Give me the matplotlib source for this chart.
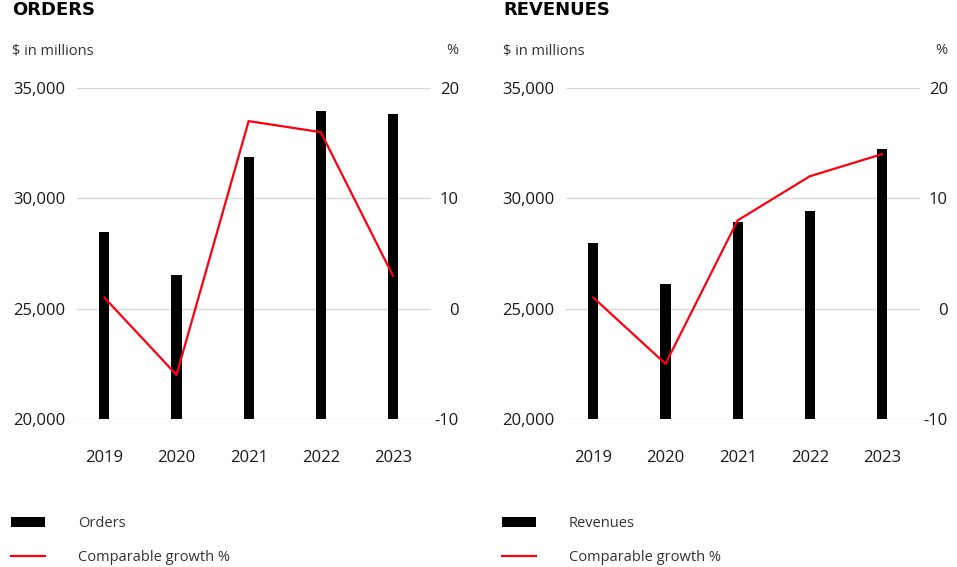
import numpy as np
import matplotlib
matplotlib.use("Agg")
import matplotlib.pyplot as plt
from matplotlib.patches import Patch
from matplotlib.lines import Line2D

# data
years = ["2019", "2020", "2021", "2022", "2023"]
orders = [28490, 26510, 31870, 33960, 33800]
orders_growth = [1, -6, 17, 16, 3]
revenues = [27980, 26130, 28940, 29440, 32240]
revenues_growth = [1, -5, 8, 12, 14]

plt.rcParams['font.family'] = ['Open Sans', 'DejaVu Sans']
plt.rcParams['axes.unicode_minus'] = False
RED = '#ff000f'
TXT = '#1a1a1a'

fig = plt.figure(figsize=(9.57, 5.67), dpi=100)


def panel(x0, bars, growth, title, label, tx):
    ax = fig.add_axes([x0, 0.261, 0.370, 0.5838])
    x = np.arange(len(years))
    ax.bar(x, np.array(bars) - 20000, bottom=20000, width=0.14, color='black', zorder=3)
    ax.set_ylim(20000, 35000)
    ax.set_yticks([20000, 25000, 30000, 35000])
    ax.set_yticklabels(['20,000', '25,000', '30,000', '35,000'])
    ax.set_xlim(-0.38, 4.53)
    ax.set_xticks(x)
    ax.set_xticklabels(years)
    ax.grid(axis='y', color='#d9d9d9', lw=1, zorder=0)
    for s in ax.spines.values():
        s.set_visible(False)
    ax.tick_params(axis='y', length=0, pad=8.5, labelsize=12, labelcolor=TXT)
    ax.tick_params(axis='x', length=0, pad=22, labelsize=12, labelcolor=TXT)

    ax2 = ax.twinx()
    ax2.plot(x, growth, color=RED, lw=1.6, zorder=4)
    ax2.set_ylim(-10, 20)
    ax2.set_yticks([-10, 0, 10, 20])
    for s in ax2.spines.values():
        s.set_visible(False)
    ax2.tick_params(axis='y', length=0, pad=20, labelsize=12, labelcolor=TXT)
    for t in ax2.get_yticklabels():
        t.set_ha('right')

    fig.text(tx, 1 - 10 / 567, title, fontsize=13, fontweight='bold',
             family='DejaVu Sans', va='center', ha='left', color='black')
    fig.text(tx, 1 - 51 / 567, '$ in millions', fontsize=10.5, color='#333333',
             va='center', ha='left')
    fig.text(x0 + 0.370 + 0.029, 1 - 51 / 567, '%', fontsize=10.5, color='#333333',
             va='center', ha='right')

    handles = [Patch(facecolor='black', edgecolor='none', label=label),
               Line2D([0], [0], color=RED, lw=1.6, label='Comparable growth %')]
    fig.legend(handles=handles, loc='upper left', bbox_to_anchor=(tx - 1 / 957, 1 - 516 / 567),
               frameon=False, fontsize=10.5, handlelength=2.3, handletextpad=2.3,
               labelspacing=1.3, borderpad=0, borderaxespad=0, labelcolor='#333333')
    return ax


panel(77 / 957, orders, orders_growth, 'ORDERS', 'Orders', 12 / 957)
panel(566 / 957, revenues, revenues_growth, 'REVENUES', 'Revenues', 503 / 957)

fig.savefig('out.png', dpi=100)
